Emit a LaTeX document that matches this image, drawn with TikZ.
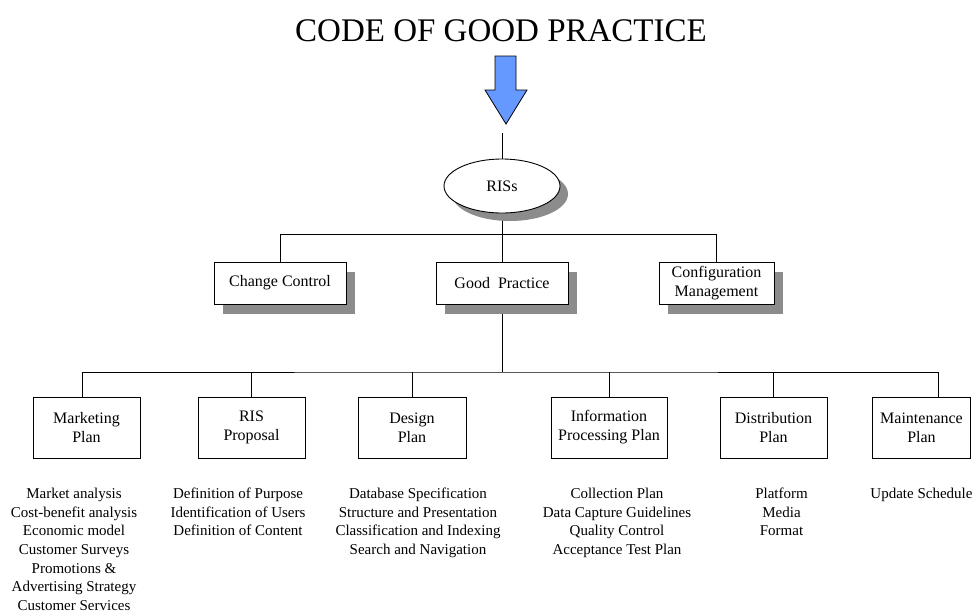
\documentclass[tikz,border=0pt]{standalone}
\usepackage{fontspec}
\setmainfont{Liberation Serif}
\usetikzlibrary{positioning,shadows,backgrounds,shapes.geometric}
\definecolor{arrowblue}{RGB}{102,153,255}
\definecolor{shadowgray}{RGB}{140,140,140}
\tikzset{
  boxshadow/.style={drop shadow={shadow xshift=9pt,shadow yshift=-10pt,fill=shadowgray,opacity=1}},
  topbox/.style={draw,line width=0.9pt,fill=white,align=center,minimum height=42pt,
    inner sep=0pt,font=\fontsize{16}{19}\selectfont,boxshadow},
  planbox/.style={draw,line width=0.9pt,fill=white,align=center,minimum height=61pt,
    inner sep=0pt,font=\fontsize{16}{19}\selectfont},
  tasklist/.style={anchor=north,align=center,inner sep=0pt,font=\fontsize{15}{18.6}\selectfont},
  link/.style={line width=0.8pt},
}
\begin{document}
\begin{tikzpicture}[x=1pt,y=-1pt,line join=miter]
  \useasboundingbox (0,0) rectangle (974,614);
  % title and arrow
  \node[font=\fontsize{33}{36}\selectfont] (title) at (501,31) {CODE OF GOOD PRACTICE};
  \draw[line width=0.8pt,fill=arrowblue] (495,56) -- (516,56) -- (516,90) -- (527,90)
    -- (506,124) -- (485,90) -- (495,90) -- cycle;
  \coordinate (in) at (502,133);
  % root
  \node[draw,ellipse,line width=0.9pt,fill=white,minimum width=116pt,minimum height=54pt,
    inner sep=0pt,font=\fontsize{16}{19}\selectfont,
    drop shadow={shadow xshift=8pt,shadow yshift=-8pt,fill=shadowgray,opacity=1}]
    (ris) at (502,186) {RISs};
  % second level
  \node[topbox,minimum width=132pt] (cc) at (280,283) {Change Control};
  \node[topbox,minimum width=132pt] (gp) at (502,283) {Good\ \ Practice};
  \node[topbox,minimum width=115pt] (cm) at (716.5,283) {Configuration\\Management};
  % plans
  \node[planbox,minimum width=107pt] (mp) at (86.5,427.5) {Marketing\\Plan};
  \node[planbox,minimum width=107pt] (rp) at (251.5,427.5) {RIS\\Proposal};
  \node[planbox,minimum width=108pt] (dp) at (412,427.5) {Design\\Plan};
  \node[planbox,minimum width=116pt] (ip) at (609,427.5) {Information\\Processing Plan};
  \node[planbox,minimum width=107pt] (tp) at (773.5,427.5) {Distribution\\Plan};
  \node[planbox,minimum width=98pt] (np) at (921.5,427.5) {Maintenance\\Plan};
  \coordinate (bus) at (502,372);
  % task lists
  \node[tasklist] (mpl) at (74,488) {Market analysis\\Cost-benefit analysis\\Economic model\\
    Customer Surveys\\Promotions \&\\Advertising Strategy\\Customer Services};
  \node[tasklist] (rpl) at (238,488) {Definition of Purpose\\Identification of Users\\
    Definition of Content};
  \node[tasklist] (dpl) at (418,488) {Database Specification\\Structure and Presentation\\
    Classification and Indexing\\Search and Navigation};
  \node[tasklist] (ipl) at (617,488) {Collection Plan\\Data Capture Guidelines\\
    Quality Control\\Acceptance Test Plan};
  \node[tasklist] (tpl) at (781.5,488) {Platform\\Media\\Format};
  \node[tasklist] (npl) at (921.5,488) {Update Schedule};
  % connectors
  \begin{scope}[on background layer]
    \draw[link] (in) -- (ris);
    \draw[link] (ris) -- (gp);
    \draw[link] (cc.north) -- ++(0,-27) -| (cm.north);
    \draw[link] (gp) -- (bus);
    \draw[link] ([xshift=-4.5pt]mp.north) |- (bus) -| ([xshift=16.5pt]np.north);
    \foreach \b in {rp,dp,ip,tp}
      \draw[link] (\b.north) -- (\b.north |- bus);
  \end{scope}
\end{tikzpicture}
\end{document}
